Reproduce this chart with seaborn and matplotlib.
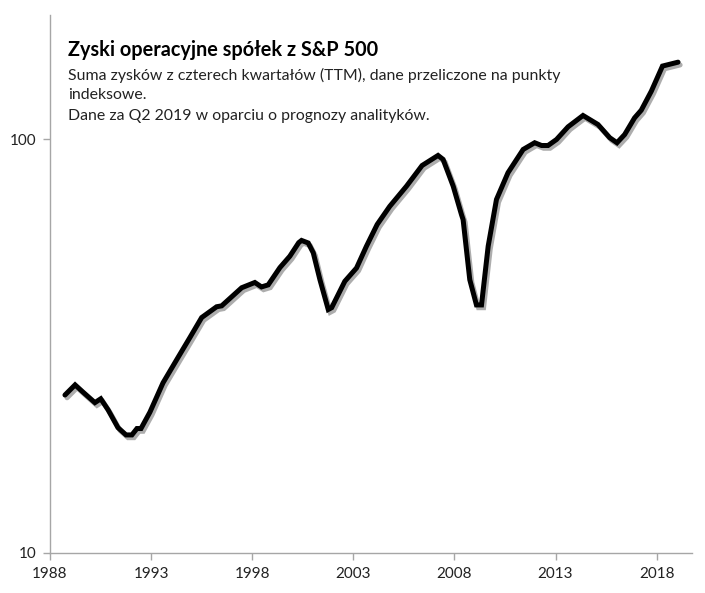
import pandas as pd
import matplotlib.pyplot as plt
import matplotlib.patheffects as pe
from matplotlib.ticker import NullLocator
import seaborn as sns

# Data (TTM operating earnings, index points)
years = [1988.74, 1989.24, 1989.63, 1990.22, 1990.51, 1990.87, 1991.36, 1991.76,
         1992.05, 1992.30, 1992.50, 1992.94, 1993.59, 1994.33, 1994.92, 1995.50,
         1996.24, 1996.49, 1997.48, 1998.13, 1998.46, 1998.79, 1999.37, 1999.86,
         2000.30, 2000.44, 2000.77, 2001.02, 2001.35, 2001.76, 2001.93, 2002.58,
         2003.16, 2003.65, 2004.18, 2004.80, 2005.63, 2006.40, 2007.19, 2007.44,
         2007.94, 2008.35, 2008.43, 2008.76, 2009.09, 2009.34, 2009.67, 2010.08,
         2010.65, 2011.40, 2011.97, 2012.31, 2012.63, 2013.05, 2013.62, 2014.36,
         2015.10, 2015.68, 2016.04, 2016.42, 2016.91, 2017.24, 2017.74, 2018.29,
         2019.06]
earnings = [24.1, 25.5, 24.5, 23.1, 23.6, 22.2, 20.1, 19.3,
            19.3, 20.0, 20.0, 21.9, 25.8, 29.7, 33.2, 37.1,
            39.4, 39.6, 43.8, 45.1, 44.0, 44.5, 49.0, 52.2,
            56.3, 57.0, 56.2, 53.2, 45.8, 38.8, 39.2, 45.4,
            48.9, 55.2, 62.3, 68.9, 77.1, 86.5, 91.5, 89.5,
            77.1, 65.8, 64.0, 45.8, 39.8, 39.8, 55.2, 71.6,
            83.1, 94.6, 98.2, 96.7, 96.7, 100.0, 107.3, 114.3,
            108.7, 101.0, 98.2, 102.8, 112.8, 117.7, 130.9, 150.5,
            153.8]

year_ticks = [1988, 1993, 1998, 2003, 2008, 2013, 2018]

title = "Zyski operacyjne spółek z S&P 500"
subtitle = ["Suma zysków z czterech kwartałów (TTM), dane przeliczone na punkty",
            "indeksowe.",
            "Dane za Q2 2019 w oparciu o prognozy analityków."]

df = pd.DataFrame({"year": years, "eps": earnings})

sns.set_style("white")
plt.rcParams['font.family'] = ['Lato', 'DejaVu Sans']

fig = plt.figure(figsize=(7.05, 5.93), dpi=100)
ax = fig.add_axes([50 / 705, 1 - 553 / 593, 642 / 705, 538 / 593])

sns.lineplot(data=df, x="year", y="eps", ax=ax, color="black", linewidth=3.6,
             solid_joinstyle="miter")
ax.lines[0].set_path_effects([
    pe.SimpleLineShadow(offset=(1.5, -2), shadow_color="#777777", alpha=0.6),
    pe.Normal(),
])

ax.set_yscale("log")
ax.set_ylim(10, 200)
ax.set_xlim(1988, 2019.75)
ax.set_yticks([10, 100])
ax.set_yticklabels(["10", "100"])
ax.yaxis.set_minor_locator(NullLocator())
ax.set_xticks(year_ticks)
ax.set_xticklabels([str(y) for y in year_ticks])
ax.set_xlabel("")
ax.set_ylabel("")

for side in ["top", "right"]:
    ax.spines[side].set_visible(False)
for side in ["left", "bottom"]:
    ax.spines[side].set_color("#a6a6a6")
    ax.spines[side].set_linewidth(1.0)
ax.tick_params(axis="both", which="major", length=5, width=1, color="#a6a6a6",
               labelsize=11, labelcolor="#222222", direction="out", pad=5,
               left=True, bottom=True)

fig.text(68 / 705, 1 - 50 / 593, title, fontsize=14.3, fontweight="bold",
         va="center", ha="left", color="black")
for i, line in enumerate(subtitle):
    fig.text(68 / 705, 1 - (75 + 20.5 * i) / 593, line, fontsize=11.4,
             va="center", ha="left", color="#222222")

fig.savefig("out.png", dpi=100)
